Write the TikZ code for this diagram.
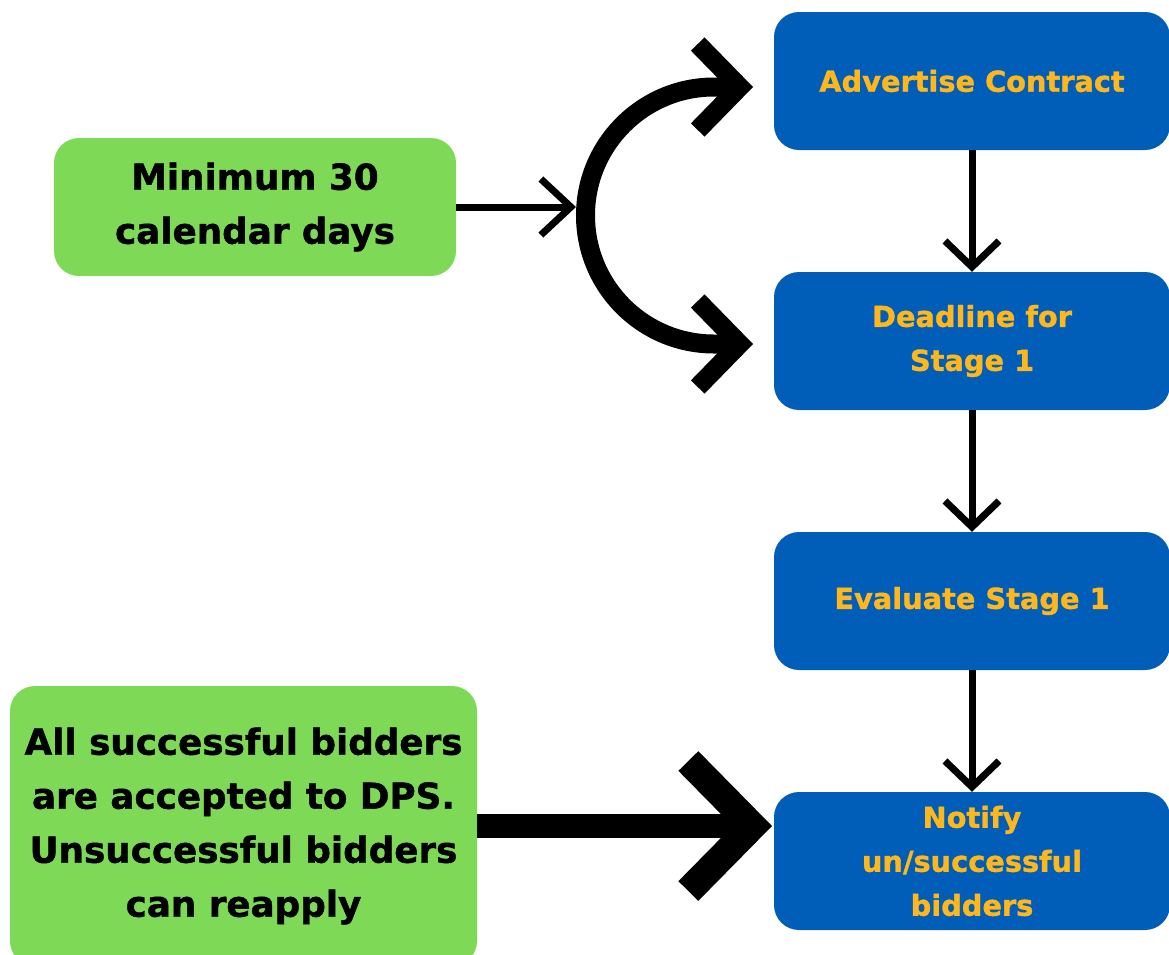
\documentclass[tikz,border=0pt]{standalone}
\usepackage{fontspec}
\setmainfont{DejaVu Sans}
\newfontfamily\heavyfont{DejaVu Sans Bold}[FakeBold=1.2]
\usetikzlibrary{arrows.meta}
\definecolor{boxblue}{RGB}{0,94,184}
\definecolor{boxgreen}{RGB}{126,217,87}
\definecolor{txtorange}{RGB}{255,183,28}
\tikzset{
  bluebox/.style={fill=boxblue, rounded corners=25pt, minimum width=396pt, minimum height=138pt,
    inner sep=0pt, text=txtorange, align=center, font=\heavyfont\fontsize{28.8}{44}\selectfont},
  greenbox/.style={fill=boxgreen, rounded corners=25pt, inner sep=0pt, text=black, align=center,
    font=\heavyfont\fontsize{35.7}{54}\selectfont},
  vconn/.style={line width=7pt, -{Straight Barb[length=26pt,width=54pt]}},
  smallconn/.style={line width=7pt, -{Straight Barb[length=30pt,width=56pt]}},
  curveconn/.style={line width=19pt, {Straight Barb[length=42pt,width=86pt]}-{Straight Barb[length=42pt,width=86pt]}},
  bigconn/.style={line width=24pt, -{Straight Barb[length=64pt,width=130pt,line width=28pt]}},
}
\begin{document}
\begin{tikzpicture}[x=1pt,y=-1pt]
\useasboundingbox (0,0) rectangle (1169,954);
\node[bluebox] (adv) at (972,81) {Advertise Contract};
\node[bluebox] (dead) at (972,341) {Deadline for\\Stage 1};
\node[bluebox] (eval) at (972,601) {Evaluate Stage 1};
\node[bluebox] (notify) at (972,861) {Notify\\un/successful\\bidders};
\node[greenbox, minimum width=402pt, minimum height=138pt] (min) at (255,207) {Minimum 30\\calendar days};
\node[greenbox, minimum width=467pt, minimum height=280pt] (all) at (243.5,826) {All successful bidders\\are accepted to DPS.\\Unsuccessful bidders\\can reapply};
\coordinate (hit) at (576,207);
\coordinate (topTip) at (753,87);
\coordinate (botTip) at (753,344);
\coordinate (bigTip) at (772,826);
\draw[vconn] (adv.south) -- (dead.north);
\draw[vconn] (dead.south) -- (eval.north);
\draw[vconn] (eval.south) -- (notify.north);
\draw[smallconn] (min.east) -- (hit);
\draw[curveconn] (topTip) -- (714,87) arc[start angle=270,end angle=90,radius=128.5] -- (botTip);
\draw[bigconn] (all.east) -- (bigTip);
\end{tikzpicture}
\end{document}
